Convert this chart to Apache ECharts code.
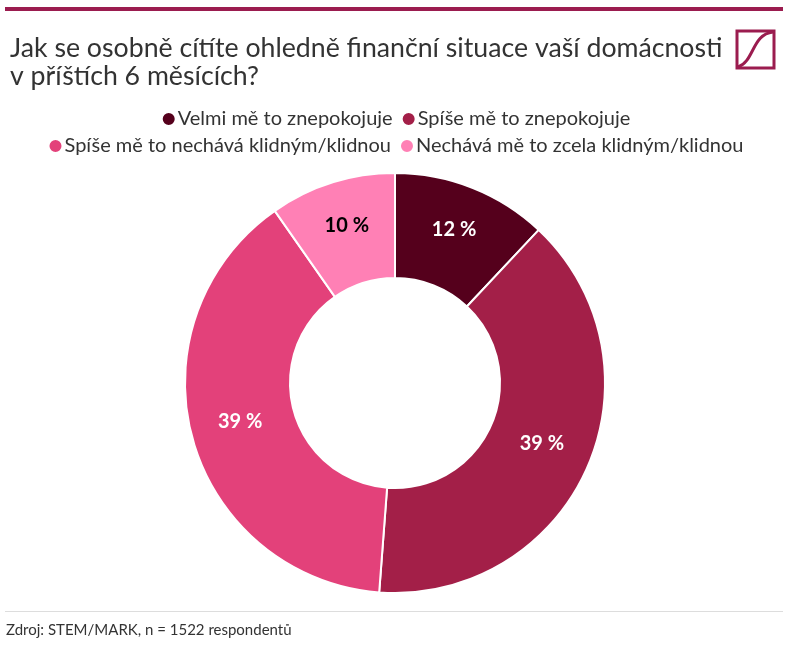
<!DOCTYPE html>
<html><head><meta charset="utf-8">
<script src="https://cdn.jsdelivr.net/npm/echarts@6/dist/echarts.min.js"></script>
<style>html,body{margin:0;padding:0;background:#fff}#c{width:791px;height:650px}</style>
</head><body><div id="c"></div>
<script>
const categories = ["Velmi mě to znepokojuje","Spíše mě to znepokojuje","Spíše mě to nechává klidným/klidnou","Nechává mě to zcela klidným/klidnou"];
const values = [12.0, 39.2, 39.1, 9.7];
const colors = ["#55001c","#a31f48","#e3417a","#ff80b5"];
const labelColors = ["#ffffff","#ffffff","#ffffff","#000000"];
const FONT = "Lato";
const legendBase = {left:'center',itemWidth:14,itemHeight:14,icon:'circle',itemGap:8,
    textStyle:{fontFamily:FONT,fontSize:20,color:'#333',padding:[0,0,0,-3]}};
const chart = echarts.init(document.getElementById('c'));
chart.setOption({
  animation:false,
  textStyle:{fontFamily:FONT},
  title:{text:"Jak se osobně cítíte ohledně finanční situace vaší domácnosti\nv příštích 6 měsících?",left:5,top:29,
    textStyle:{fontFamily:FONT,fontSize:26.7,fontWeight:'normal',color:'#333',lineHeight:28}},
  legend:[
    Object.assign({top:104,data:categories.slice(0,2)},legendBase),
    Object.assign({top:131,data:categories.slice(2)},legendBase)
  ],
  graphic:[
    {type:'rect',shape:{x:5,y:7,width:778,height:4},style:{fill:'#9b1c4f'},silent:true},
    {type:'rect',shape:{x:737,y:31,width:37,height:37},style:{fill:'none',stroke:'#9b1c4f',lineWidth:3},silent:true},
    {type:'bezierCurve',shape:{x1:738,y1:67,cpx1:754,cpy1:62,cpx2:752,cpy2:34,x2:773,y2:32},style:{fill:'none',stroke:'#9b1c4f',lineWidth:3},silent:true},
    {type:'rect',shape:{x:5,y:611,width:778,height:1},style:{fill:'#dddddd'},silent:true},
    {type:'text',left:6,top:623,style:{text:'Zdroj: STEM/MARK, n = 1522 respondentů',fontFamily:FONT,fontSize:15,fill:'#333'},silent:true}
  ],
  series:[{type:'pie',center:[395,383],radius:[105,210],startAngle:90,clockwise:true,
    itemStyle:{borderColor:'#fff',borderWidth:2},
    label:{position:'inside',offset:[0,-4],fontFamily:FONT,fontSize:20,fontWeight:'bold',
      formatter:p=>Math.round(p.value)+' %'},
    labelLine:{show:false},
    data:categories.map((c,i)=>({name:c,value:values[i],itemStyle:{color:colors[i]},label:{color:labelColors[i]}}))
  }]
});
</script></body></html>
